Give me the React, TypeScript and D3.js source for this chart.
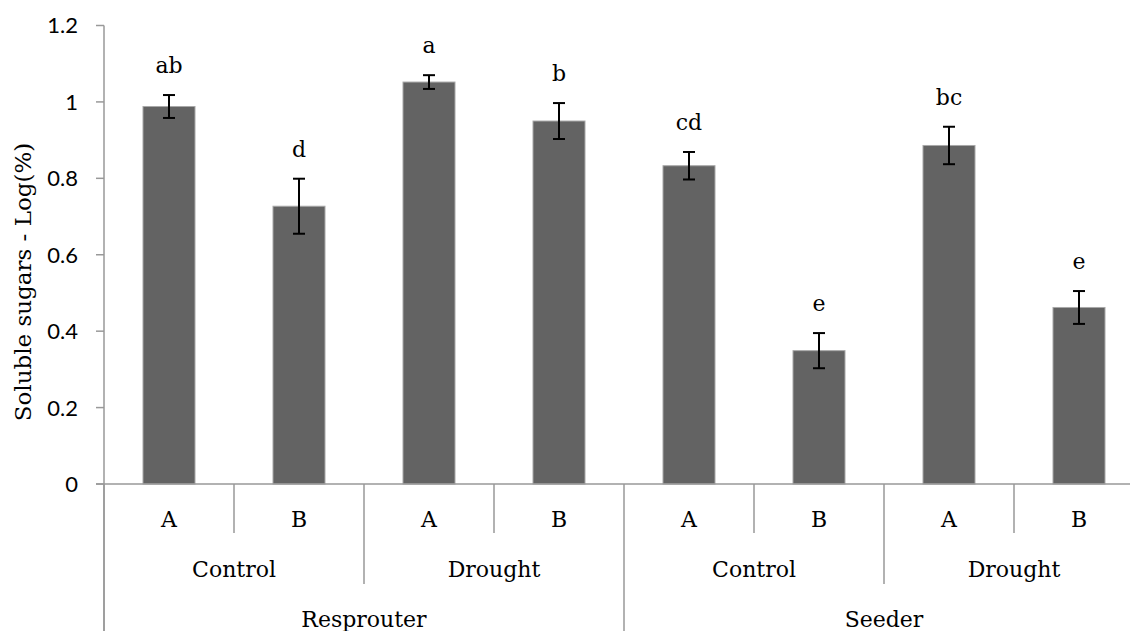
import React from "react";
import * as d3 from "d3";

const species = ["Resprouter", "Seeder"];
const treatments = ["Control", "Drought", "Control", "Drought"];
const subLabels = ["A", "B", "A", "B", "A", "B", "A", "B"];
const values = [0.988, 0.727, 1.052, 0.95, 0.833, 0.349, 0.886, 0.462];
const errors = [0.03, 0.072, 0.018, 0.047, 0.036, 0.046, 0.049, 0.043];
const letters = ["ab", "d", "a", "b", "cd", "e", "bc", "e"];
const yTicks = [0, 0.2, 0.4, 0.6, 0.8, 1, 1.2];
const yTitle = "Soluble sugars - Log(%)";

const W = 1130;
const H = 631;
const left = 104;
const step = 130;
const axisY = 484;

export default function App() {
  const x = d3
    .scaleBand<number>()
    .domain(d3.range(values.length))
    .range([left, left + step * values.length])
    .padding(0);
  const y = d3.scaleLinear().domain([0, 1.2]).range([axisY, 25.5]);
  const bw = x.bandwidth() * 0.4;
  const serif = "'DejaVu Serif', serif";
  const sans = "Lato, 'Open Sans', sans-serif";
  const axisColor = "#999999";

  const seps = d3.range(values.length + 1).map((i) => {
    const xx = left + i * x.bandwidth();
    let y2 = 533;
    if (i % 4 === 0) y2 = H;
    else if (i % 2 === 0) y2 = 584;
    return { xx, y2 };
  });

  return (
    <svg
      width={W}
      height={H}
      style={{ position: "absolute", left: 0, top: 0, background: "#fff" }}
    >
      {/* y ticks */}
      {yTicks.map((t) => (
        <g key={t}>
          <line x1={96} x2={left} y1={y(t)} y2={y(t)} stroke={axisColor} strokeWidth={1.5} />
          <text
            x={78}
            y={y(t)}
            dy="0.36em"
            textAnchor="end"
            fontFamily={sans}
            fontSize={22}
            fill="#000"
          >
            {String(t)}
          </text>
        </g>
      ))}
      {/* y axis title */}
      <text
        transform={`translate(31, 282) rotate(-90)`}
        textAnchor="middle"
        fontFamily={serif}
        fontSize={23}
        fill="#000"
      >
        {yTitle}
      </text>
      {/* bars */}
      {values.map((v, i) => {
        const cx = (x(i) as number) + x.bandwidth() / 2;
        return (
          <rect
            key={i}
            x={cx - bw / 2}
            y={y(v)}
            width={bw}
            height={axisY - y(v)}
            fill="#636363"
            stroke="#a8a8a8"
            strokeWidth={1}
          />
        );
      })}
      {/* error bars */}
      {values.map((v, i) => {
        const cx = (x(i) as number) + x.bandwidth() / 2;
        const t = y(v + errors[i]);
        const b = y(v - errors[i]);
        return (
          <g key={i} stroke="#000" strokeWidth={2}>
            <line x1={cx} x2={cx} y1={t} y2={b} />
            <line x1={cx - 6} x2={cx + 6} y1={t} y2={t} />
            <line x1={cx - 6} x2={cx + 6} y1={b} y2={b} />
          </g>
        );
      })}
      {/* letters */}
      {values.map((v, i) => {
        const cx = (x(i) as number) + x.bandwidth() / 2;
        return (
          <text
            key={i}
            x={cx}
            y={y(v + errors[i]) - 22}
            textAnchor="middle"
            fontFamily={serif}
            fontSize={22}
            fill="#000"
          >
            {letters[i]}
          </text>
        );
      })}
      {/* axes */}
      <line x1={left} x2={left} y1={25.5} y2={H} stroke={axisColor} strokeWidth={1.5} />
      <line x1={96} x2={W} y1={axisY} y2={axisY} stroke={axisColor} strokeWidth={1.5} />
      {seps.map((s, i) => (
        <line key={i} x1={s.xx} x2={s.xx} y1={axisY} y2={s.y2} stroke={axisColor} strokeWidth={1.5} />
      ))}
      {/* category labels */}
      {subLabels.map((l, i) => (
        <text
          key={i}
          x={(x(i) as number) + x.bandwidth() / 2}
          y={527}
          textAnchor="middle"
          fontFamily={serif}
          fontSize={22}
          fill="#000"
        >
          {l}
        </text>
      ))}
      {treatments.map((l, i) => (
        <text
          key={i}
          x={left + (i * 2 + 1) * x.bandwidth()}
          y={577}
          textAnchor="middle"
          fontFamily={serif}
          fontSize={22}
          fill="#000"
        >
          {l}
        </text>
      ))}
      {species.map((l, i) => (
        <text
          key={i}
          x={left + (i * 4 + 2) * x.bandwidth()}
          y={627}
          textAnchor="middle"
          fontFamily={serif}
          fontSize={22}
          fill="#000"
        >
          {l}
        </text>
      ))}
    </svg>
  );
}
